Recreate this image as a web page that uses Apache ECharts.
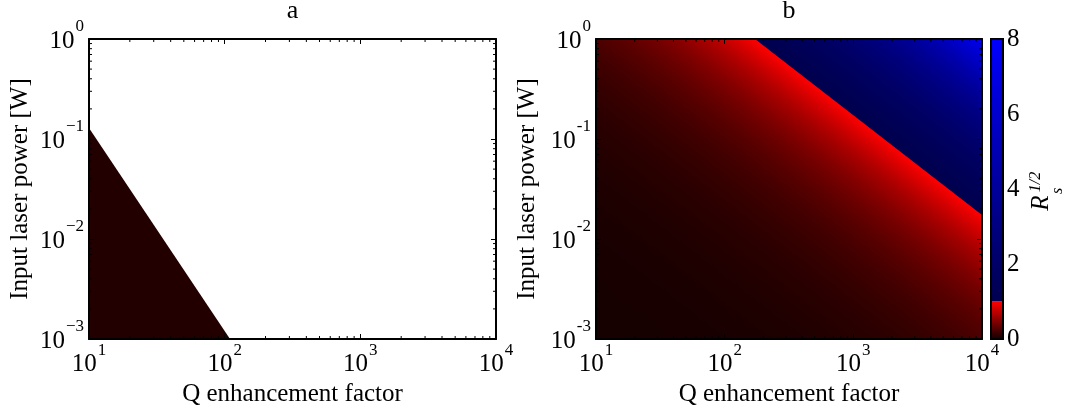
<!DOCTYPE html>
<html><head><meta charset="utf-8">
<script src="https://cdn.jsdelivr.net/npm/echarts@6/dist/echarts.min.js"></script>
<style>html,body{margin:0;padding:0;background:#fff}#c{width:1069px;height:411px}</style>
</head><body><div id="c"></div><script>
// ---- data ----
const qRange = [10, 10000];          // Q enhancement factor axis extent
const pRange = [0.001, 1];           // input laser power axis extent [W]
const xTickExponents = [1, 2, 3, 4]; // x tick labels 10^n
const yTickExponents = [-3, -2, -1, 0];
const panelAEdge = [[10, 0.129], [109.5, 0.001]];   // edge of dark region (panel a)
const panelBEdge = [[172, 1], [10000, 0.0174]];     // Rs^1/2 = 1 contour (panel b)
const panelBLowCorner = [10, 0.001, 0.0076];        // Q, P, Rs^1/2 at lowest corner
const panelBHighCorner = [10000, 1, 7.6];           // Q, P, Rs^1/2 at highest corner
const colorbarTicks = [0, 2, 4, 6, 8];
const colorbarSplit = [0, 1, 8];                    // red segment 0-1, blue segment 1-8
const titles = ['a', 'b'];

// ---- styles ----
const FONT = 'Liberation Serif';
const panelAColor = '#220000';
const redLow = [20, 0, 0], redHigh = [255, 0, 0];
const blueLow = [0, 0, 78], blueHigh = [0, 0, 255];
function mix(a, b, t) {
  t = Math.max(0, Math.min(1, t));
  return 'rgb(' + a.map((v, i) => Math.round(v + (b[i] - v) * t)).join(',') + ')';
}
const minorQ = [], minorP = [];
for (let e = 1; e < 4; e++) for (let m = 2; m <= 9; m++) minorQ.push(m * Math.pow(10, e));
for (let e = -3; e < 0; e++) for (let m = 2; m <= 9; m++) minorP.push(m * Math.pow(10, e));

const rich = {
  b: { fontFamily: FONT, fontSize: 25, color: '#000', padding: [10, 0, 6, 0] },
  s: { fontFamily: FONT, fontSize: 17, color: '#000', verticalAlign: 'top', padding: [0, 0, 0, 1] }
};
function expLabel(list, minus) {
  return function (v) {
    const e = Math.round(Math.log10(v));
    if (list.indexOf(e) < 0) return '';
    return '{b|10}{s|' + String(e).replace('-', minus) + '}';
  };
}
function xAxisFor(grid, pos, showLabel) {
  return {
    type: 'log', logBase: 10, gridIndex: grid, position: pos, min: qRange[0], max: qRange[1], splitNumber: 3, z: 5,
    axisLine: { show: true, lineStyle: { color: '#000', width: 2 } },
    axisTick: { show: true, inside: true, length: 5, lineStyle: { color: '#000', width: 1 } },
    splitLine: { show: false }, minorTick: { show: false },
    axisLabel: { show: showLabel, margin: 3, formatter: expLabel(xTickExponents, '−'), rich: rich },
    name: showLabel ? 'Q enhancement factor' : '', nameLocation: 'middle', nameGap: 38,
    nameTextStyle: { fontFamily: FONT, fontSize: 25, color: '#000' }
  };
}
function yAxisFor(grid, pos, showLabel, minus) {
  return {
    type: 'log', logBase: 10, gridIndex: grid, position: pos, min: pRange[0], max: pRange[1], splitNumber: 3, z: 5,
    axisLine: { show: true, lineStyle: { color: '#000', width: 2 } },
    axisTick: { show: true, inside: true, length: 5, lineStyle: { color: '#000', width: 1 } },
    splitLine: { show: false }, minorTick: { show: false },
    axisLabel: { show: showLabel, margin: 5, formatter: expLabel(yTickExponents, minus), rich: rich },
    name: showLabel ? 'Input laser power [W]' : '', nameLocation: 'middle', nameGap: 56,
    nameTextStyle: { fontFamily: FONT, fontSize: 25, color: '#000' }
  };
}
function minorTickSeries(xi, yi) {
  return {
    type: 'custom', xAxisIndex: xi, yAxisIndex: yi, data: [[qRange[0], pRange[0]]], z: 6, silent: true,
    renderItem: function (params, api) {
      const ch = [], L = 3, st = { stroke: '#000', lineWidth: 1 };
      minorQ.forEach(q => {
        const b = api.coord([q, pRange[0]]), t = api.coord([q, pRange[1]]);
        ch.push({ type: 'line', shape: { x1: b[0], y1: b[1], x2: b[0], y2: b[1] - L }, style: st });
        ch.push({ type: 'line', shape: { x1: t[0], y1: t[1], x2: t[0], y2: t[1] + L }, style: st });
      });
      minorP.forEach(p => {
        const l = api.coord([qRange[0], p]), r = api.coord([qRange[1], p]);
        ch.push({ type: 'line', shape: { x1: l[0], y1: l[1], x2: l[0] + L, y2: l[1] }, style: st });
        ch.push({ type: 'line', shape: { x1: r[0], y1: r[1], x2: r[0] - L, y2: r[1] }, style: st });
      });
      return { type: 'group', children: ch };
    }
  };
}

const chart = echarts.init(document.getElementById('c'), null, { renderer: 'canvas' });
chart.setOption({
  animation: false,
  backgroundColor: '#fff',
  grid: [
    { left: 89, top: 39, width: 407, height: 300, outerBoundsMode: 'none', containLabel: false },
    { left: 596, top: 39, width: 386, height: 300, outerBoundsMode: 'none', containLabel: false },
    { left: 991, top: 39, width: 12, height: 300, outerBoundsMode: 'none', containLabel: false }
  ],
  xAxis: [
    xAxisFor(0, 'bottom', true), xAxisFor(0, 'top', false),
    xAxisFor(1, 'bottom', true), xAxisFor(1, 'top', false),
    { type: 'value', gridIndex: 2, min: 0, max: 1, show: false }
  ],
  yAxis: [
    yAxisFor(0, 'left', true, '−'), yAxisFor(0, 'right', false, '−'),
    yAxisFor(1, 'left', true, '-'), yAxisFor(1, 'right', false, '-'),
    {
      type: 'value', gridIndex: 2, position: 'right', min: colorbarTicks[0], max: colorbarTicks[colorbarTicks.length - 1],
      interval: 2, z: 5, axisLine: { show: false }, axisTick: { show: false }, splitLine: { show: false },
      axisLabel: { margin: 4, fontFamily: FONT, fontSize: 25, color: '#000',
        formatter: v => colorbarTicks.indexOf(v) >= 0 ? String(v) : '' }
    }
  ],
  graphic: [
    { type: 'text', x: 292.5, y: 11, style: { text: titles[0], font: '26px "Liberation Serif"', fill: '#000', textAlign: 'center', textVerticalAlign: 'middle' } },
    { type: 'text', x: 789, y: 11, style: { text: titles[1], font: '26px "Liberation Serif"', fill: '#000', textAlign: 'center', textVerticalAlign: 'middle' } },
    {
      type: 'group', x: 1045, y: 192, rotation: Math.PI / 2,
      children: [
        { type: 'text', x: -11, y: -4, style: { text: 'R', font: 'italic 25px "Liberation Serif"', fill: '#000', textAlign: 'center', textVerticalAlign: 'middle' } },
        { type: 'text', x: 10, y: -9, style: { text: '1/2', font: 'italic 16px "Liberation Serif"', fill: '#000', textAlign: 'center', textVerticalAlign: 'middle' } },
        { type: 'text', x: 1, y: 13, style: { text: 's', font: 'italic 16px "Liberation Serif"', fill: '#000', textAlign: 'center', textVerticalAlign: 'middle' } }
      ]
    }
  ],
  series: [
    {
      type: 'custom', xAxisIndex: 0, yAxisIndex: 0, data: [[qRange[0], pRange[0]]], z: 2, silent: true,
      renderItem: function (params, api) {
        const pts = [[qRange[0], pRange[0]], panelAEdge[0], panelAEdge[1]].map(d => api.coord(d));
        return { type: 'polygon', shape: { points: pts }, style: { fill: panelAColor } };
      }
    },
    {
      type: 'custom', xAxisIndex: 2, yAxisIndex: 2, data: [[qRange[0], pRange[0]]], z: 2, silent: true,
      renderItem: function (params, api) {
        const bl = api.coord([qRange[0], pRange[0]]), tl = api.coord([qRange[0], pRange[1]]);
        const tr = api.coord([qRange[1], pRange[1]]), br = api.coord([qRange[1], pRange[0]]);
        const e1 = api.coord(panelBEdge[0]), e2 = api.coord(panelBEdge[1]);
        function foot(p) {
          const dx = e2[0] - e1[0], dy = e2[1] - e1[1];
          const t = ((p[0] - e1[0]) * dx + (p[1] - e1[1]) * dy) / (dx * dx + dy * dy);
          return [e1[0] + t * dx, e1[1] + t * dy];
        }
        const f1 = foot(bl), f2 = foot(tr);
        const vLow = panelBLowCorner[2], vHigh = panelBHighCorner[2];
        const redStops = [], blueStops = [], n = 48;
        for (let i = 0; i <= n; i++) {
          const t = i / n;
          const v = Math.pow(vLow, 1 - t);
          redStops.push({ offset: t, color: mix(redLow, redHigh, v / colorbarSplit[1]) });
          const w = Math.pow(vHigh, t);
          blueStops.push({ offset: t, color: mix(blueLow, blueHigh, (w - colorbarSplit[1]) / (colorbarSplit[2] - colorbarSplit[1])) });
        }
        return {
          type: 'group', children: [
            { type: 'polygon', shape: { points: [bl, tl, tr, br] },
              style: { fill: new echarts.graphic.LinearGradient(bl[0], bl[1], f1[0], f1[1], redStops, true) } },
            { type: 'polygon', shape: { points: [e1, tr, e2] },
              style: { fill: new echarts.graphic.LinearGradient(f2[0], f2[1], tr[0], tr[1], blueStops, true) } }
          ]
        };
      }
    },
    minorTickSeries(0, 0),
    minorTickSeries(2, 2),
    {
      type: 'custom', xAxisIndex: 4, yAxisIndex: 4, data: [[0, 0]], z: 2, silent: true,
      renderItem: function (params, api) {
        const p0 = api.coord([0, colorbarSplit[0]]), p1 = api.coord([1, colorbarSplit[1]]), p2 = api.coord([1, colorbarSplit[2]]);
        const x = p0[0], w = p1[0] - p0[0];
        return {
          type: 'group', children: [
            { type: 'rect', shape: { x: x, y: p1[1], width: w, height: p0[1] - p1[1] },
              style: { fill: new echarts.graphic.LinearGradient(0, p0[1], 0, p1[1], [
                { offset: 0, color: mix(redLow, redHigh, 0) }, { offset: 1, color: mix(redLow, redHigh, 1) }], true) } },
            { type: 'rect', shape: { x: x, y: p2[1], width: w, height: p1[1] - p2[1] },
              style: { fill: new echarts.graphic.LinearGradient(0, p1[1], 0, p2[1], [
                { offset: 0, color: mix(blueLow, blueHigh, 0) }, { offset: 1, color: mix(blueLow, blueHigh, 1) }], true) } },
            { type: 'rect', shape: { x: x, y: p2[1], width: w, height: p0[1] - p2[1] },
              style: { fill: 'none', stroke: '#000', lineWidth: 2 }, z2: 10 }
          ]
        };
      }
    }
  ]
});
</script></body></html>
